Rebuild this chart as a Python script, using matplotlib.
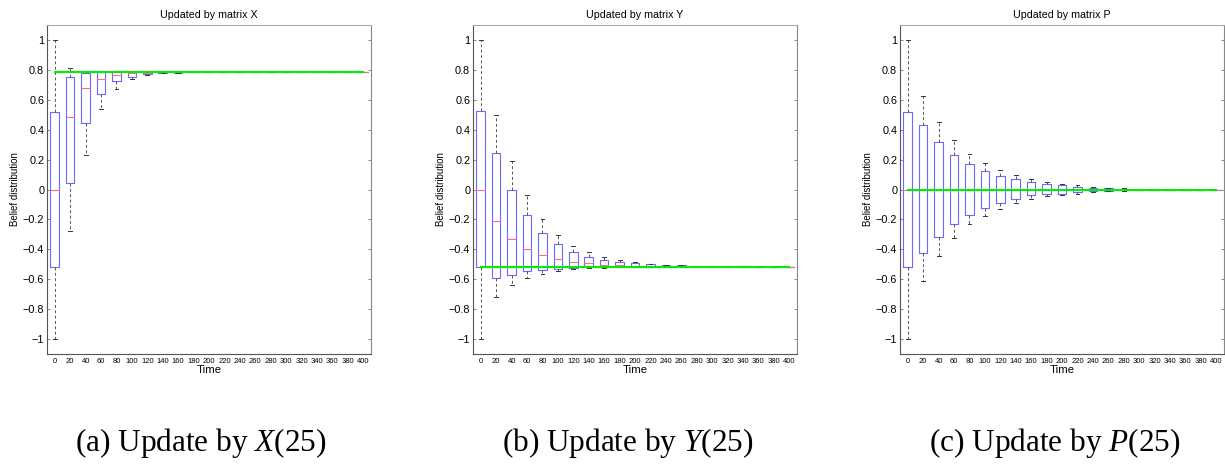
import matplotlib
matplotlib.use('Agg')
import matplotlib.pyplot as plt

plt.rcParams['font.family'] = ['Liberation Sans', 'DejaVu Sans']
plt.rcParams['mathtext.fontset'] = 'custom'
plt.rcParams['mathtext.rm'] = 'Liberation Serif'
plt.rcParams['mathtext.it'] = 'Liberation Serif:italic'

time_labels = [str(t) for t in range(0, 401, 20)]

# matrix X
x_whislo = [-1.0, -0.28, 0.23, 0.535, 0.675, 0.737, 0.766, 0.776, 0.781, 0.783,
            0.784, 0.785, 0.785, 0.785, 0.785, 0.785, 0.785, 0.785, 0.785, 0.785, 0.785]
x_q1 = [-0.52, 0.044, 0.444, 0.638, 0.724, 0.755, 0.771, 0.778, 0.782, 0.784,
        0.785, 0.785, 0.785, 0.785, 0.785, 0.785, 0.785, 0.785, 0.785, 0.785, 0.785]
x_med = [0.0, 0.484, 0.678, 0.742, 0.764, 0.776, 0.781, 0.783, 0.784, 0.785,
         0.785, 0.785, 0.785, 0.785, 0.785, 0.785, 0.785, 0.785, 0.785, 0.785, 0.785]
x_q3 = [0.52, 0.751, 0.782, 0.784, 0.785, 0.785, 0.785, 0.785, 0.785, 0.785,
        0.785, 0.785, 0.785, 0.785, 0.785, 0.785, 0.785, 0.785, 0.785, 0.785, 0.785]
x_whishi = [1.0, 0.81, 0.793, 0.789, 0.787, 0.786, 0.786, 0.785, 0.785, 0.785,
            0.785, 0.785, 0.785, 0.785, 0.785, 0.785, 0.785, 0.785, 0.785, 0.785, 0.785]
x_consensus = 0.785

# matrix Y
y_whislo = [-1.0, -0.716, -0.638, -0.593, -0.564, -0.544, -0.533, -0.528, -0.523, -0.52,
            -0.518, -0.517, -0.516, -0.516, -0.515, -0.515, -0.515, -0.515, -0.515, -0.515, -0.515]
y_q1 = [-0.515, -0.589, -0.569, -0.547, -0.536, -0.529, -0.523, -0.521, -0.519, -0.518,
        -0.517, -0.516, -0.516, -0.515, -0.515, -0.515, -0.515, -0.515, -0.515, -0.515, -0.515]
y_med = [0.0, -0.213, -0.333, -0.398, -0.44, -0.462, -0.482, -0.493, -0.502, -0.506,
         -0.51, -0.512, -0.513, -0.514, -0.515, -0.515, -0.515, -0.515, -0.515, -0.515, -0.515]
y_q3 = [0.522, 0.244, -0.004, -0.173, -0.289, -0.362, -0.416, -0.449, -0.469, -0.482,
        -0.493, -0.5, -0.505, -0.508, -0.511, -0.512, -0.513, -0.514, -0.515, -0.515, -0.515]
y_whishi = [1.0, 0.496, 0.189, -0.036, -0.196, -0.304, -0.378, -0.416, -0.449, -0.471,
            -0.487, -0.497, -0.503, -0.507, -0.51, -0.512, -0.513, -0.514, -0.515, -0.515, -0.515]
y_consensus = -0.515

# matrix P
p_whislo = [-1.0, -0.611, -0.444, -0.322, -0.233, -0.176, -0.129, -0.093, -0.062, -0.044,
            -0.035, -0.028, -0.02, -0.012, -0.008, -0.005, -0.003, -0.002, -0.001, -0.001, 0.0]
p_q1 = [-0.52, -0.427, -0.318, -0.229, -0.168, -0.124, -0.09, -0.062, -0.04, -0.029,
        -0.027, -0.02, -0.013, -0.008, -0.005, -0.003, -0.002, -0.001, -0.001, 0.0, 0.0]
p_med = [0.0, 0.0, 0.0, 0.0, 0.0, 0.0, 0.0, 0.0, 0.0, 0.0,
         0.0, 0.0, 0.0, 0.0, 0.0, 0.0, 0.0, 0.0, 0.0, 0.0, 0.0]
p_q3 = [0.52, 0.429, 0.318, 0.233, 0.171, 0.124, 0.091, 0.069, 0.051, 0.036,
        0.029, 0.02, 0.013, 0.008, 0.005, 0.003, 0.002, 0.001, 0.001, 0.0, 0.0]
p_whishi = [1.0, 0.622, 0.449, 0.329, 0.24, 0.178, 0.131, 0.096, 0.067, 0.051,
            0.035, 0.028, 0.02, 0.012, 0.008, 0.005, 0.003, 0.002, 0.001, 0.001, 0.0]
p_consensus = 0.0

titles = ['Updated by matrix X', 'Updated by matrix Y', 'Updated by matrix P']
captions = ['(a) Update by $X$(25)', '(b) Update by $Y$(25)', '(c) Update by $P$(25)']


def make_stats(lo, q1, med, q3, hi):
    stats = []
    for i in range(len(med)):
        stats.append(dict(whislo=lo[i], q1=q1[i], med=med[i], q3=q3[i],
                          whishi=hi[i], fliers=[]))
    return stats


def main():
    W, H = 1225, 466
    fig = plt.figure(figsize=(W / 100, H / 100), dpi=100)

    panels = [
        (x_whislo, x_q1, x_med, x_q3, x_whishi, x_consensus),
        (y_whislo, y_q1, y_med, y_q3, y_whishi, y_consensus),
        (p_whislo, p_q1, p_med, p_q3, p_whishi, p_consensus),
    ]
    lefts = [47, 473, 900]
    cap_x = [201, 628, 1055]
    positions = list(range(1, len(time_labels) + 1))

    for k, (lo, q1, med, q3, hi, cons) in enumerate(panels):
        ax = fig.add_axes([lefts[k] / W, (H - 354) / H, 324 / W, 329 / H])
        ax.bxp(make_stats(lo, q1, med, q3, hi), positions=positions,
               widths=0.55, capwidths=0.25, showfliers=False,
               boxprops=dict(color='#6a6aff', linewidth=0.8),
               medianprops=dict(color='#ff7070', linewidth=0.8),
               whiskerprops=dict(color='#555555', linewidth=0.7,
                                 linestyle=(0, (3, 2.5))),
               capprops=dict(color='#333333', linewidth=0.7))
        ax.plot([positions[0], positions[-1]], [cons, cons],
                color='#00ee00', linewidth=1.5, zorder=5)

        ax.set_xlim(0.5, 21.5)
        ax.set_ylim(-1.1, 1.1)
        ax.set_yticks([-1, -0.8, -0.6, -0.4, -0.2, 0, 0.2, 0.4, 0.6, 0.8, 1])
        ax.set_yticklabels(['\u22121', '\u22120.8', '\u22120.6', '\u22120.4', '\u22120.2',
                            '0', '0.2', '0.4', '0.6', '0.8', '1'])
        ax.set_xticks(positions)
        ax.set_xticklabels(time_labels)
        ax.tick_params(axis='y', labelsize=7.8, direction='in', length=2.5,
                       right=True, width=0.6, color='#777777', pad=2)
        ax.tick_params(axis='x', labelsize=5.5, direction='in', length=0,
                       pad=3)
        for sp in ax.spines.values():
            sp.set_color('#555555')
            sp.set_linewidth(0.8)
        ax.spines['top'].set_color('#aaaaaa')
        ax.spines['right'].set_color('#888888')

        ax.set_title(titles[k], fontsize=7.7, pad=5)
        ax.set_xlabel('Time', fontsize=8.2, labelpad=0)
        ax.set_ylabel('Belief distribution', fontsize=7, labelpad=2)

        fig.text(cap_x[k] / W, 1 - 443 / H, captions[k], ha='center', va='center',
                 fontsize=22.5, family='Liberation Serif')

    fig.savefig('out.png', dpi=100)


if __name__ == '__main__':
    main()
